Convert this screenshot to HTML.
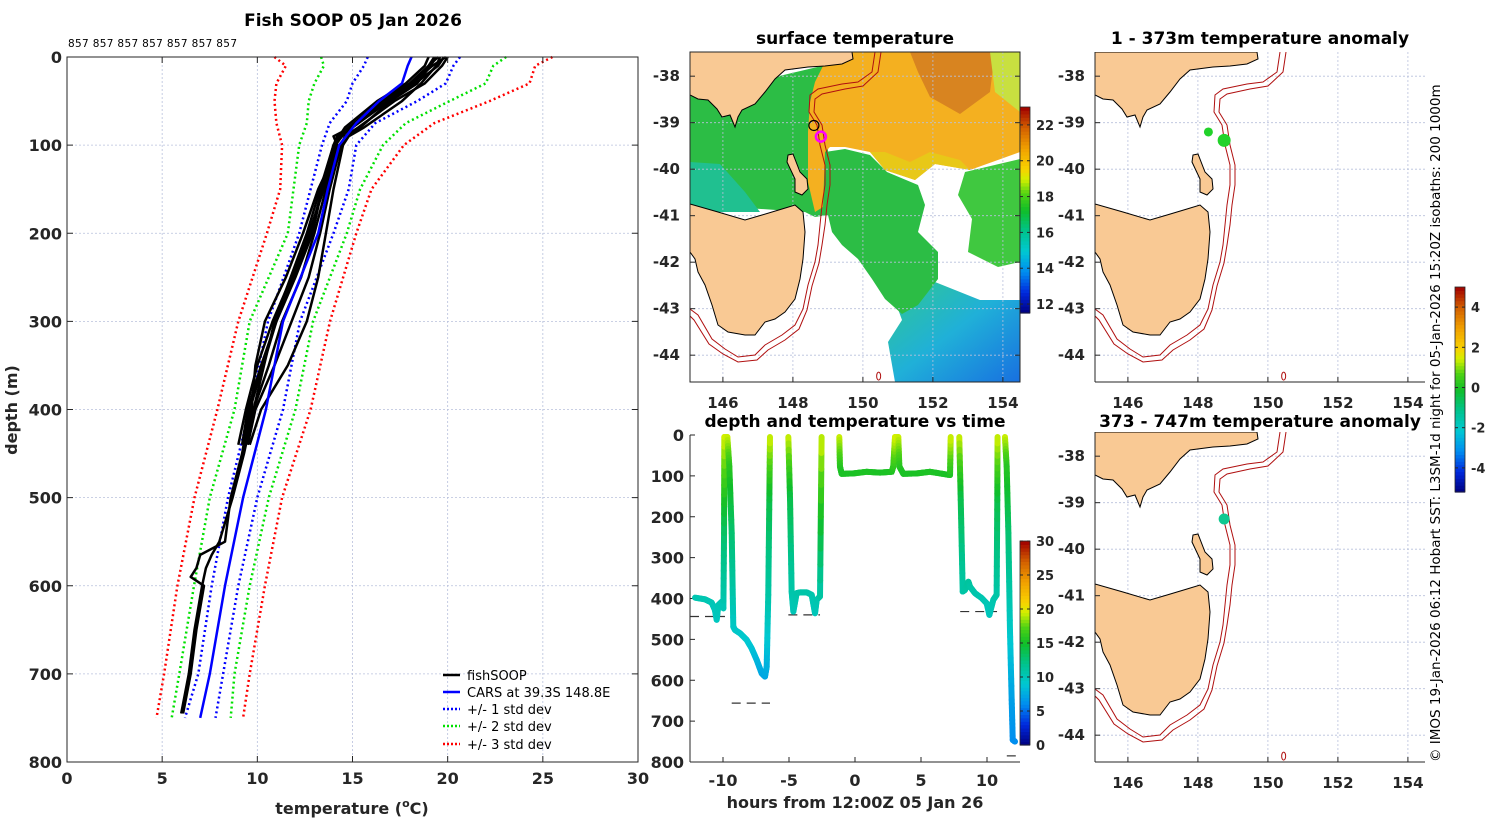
<!DOCTYPE html>
<html><head><meta charset="utf-8">
<style>
html,body{margin:0;padding:0;background:#fff;}
svg{display:block;font-family:"DejaVu Sans","Liberation Sans",sans-serif;}
.tk{font-size:16px;font-weight:bold;fill:#262626;}
.mt{font-size:15px;font-weight:bold;fill:#262626;}
.ttl{font-size:17px;font-weight:bold;fill:#000;}
.grid{stroke:#b8c0dc;stroke-width:0.8;stroke-dasharray:2,2;fill:none;}
</style></head>
<body>
<svg id="fig" width="1500" height="820" viewBox="0 0 1500 820" xmlns="http://www.w3.org/2000/svg">
<defs>
<clipPath id="mapclip"><rect x="0" y="0" width="330" height="330"/></clipPath>
<linearGradient id="seGrad" x1="0" y1="0" x2="1" y2="1">
<stop offset="0" stop-color="#30c890"/><stop offset="0.5" stop-color="#20b0d8"/><stop offset="1" stop-color="#1870e0"/>
</linearGradient>
</defs>

<g id="profile">
<text class="ttl" x="353" y="26" text-anchor="middle">Fish SOOP 05 Jan 2026</text>
<text x="68" y="47" font-size="10.5" fill="#000" textLength="169">857 857 857 857 857 857 857</text>
<g id="pgrid"></g>
<g id="plines"></g>
<rect x="67" y="57" width="571" height="705" fill="none" stroke="#262626" stroke-width="1"/>
<g id="pticks"></g>
<text class="tk" transform="translate(17,410) rotate(-90)" text-anchor="middle">depth (m)</text>
<text class="tk" x="352" y="814" text-anchor="middle">temperature (<tspan font-size="11" dy="-7">o</tspan><tspan dy="7">C)</tspan></text>
<g id="legend" font-size="13" fill="#000">
<line x1="443" y1="675" x2="460" y2="675" stroke="#000" stroke-width="2.5"/>
<text x="467" y="680">fishSOOP</text>
<line x1="443" y1="692" x2="460" y2="692" stroke="#0000ff" stroke-width="2.5"/>
<text x="467" y="697">CARS at 39.3S 148.8E</text>
<line x1="443" y1="709" x2="460" y2="709" stroke="#0000ff" stroke-width="2.5" stroke-dasharray="2,2"/>
<text x="467" y="714">+/- 1 std dev</text>
<line x1="443" y1="726" x2="460" y2="726" stroke="#00e000" stroke-width="2.5" stroke-dasharray="2,2"/>
<text x="467" y="731">+/- 2 std dev</text>
<line x1="443" y1="744" x2="460" y2="744" stroke="#ff0000" stroke-width="2.5" stroke-dasharray="2,2"/>
<text x="467" y="749">+/- 3 std dev</text>
</g>
</g>

<text class="ttl" x="855" y="44" text-anchor="middle">surface temperature</text>
<g id="map1" transform="translate(690,52)"></g>
<g id="cb1"></g>

<text class="ttl" x="855" y="427" text-anchor="middle">depth and temperature vs time</text>
<g id="tpanel"></g>
<g id="cb2"></g>
<text class="tk" x="855" y="808" text-anchor="middle">hours from 12:00Z 05 Jan 26</text>

<text class="ttl" x="1260" y="44" text-anchor="middle">1 - 373m temperature anomaly</text>
<g id="map2" transform="translate(1095,52)"></g>
<text class="ttl" x="1260" y="427" text-anchor="middle">373 - 747m temperature anomaly</text>
<g id="map3" transform="translate(1095,432)"></g>
<g id="cb3"></g>
<text transform="translate(1440,762) rotate(-90)" font-size="13.5" fill="#000">© IMOS 19-Jan-2026 06:12 Hobart SST: L3SM-1d night for 05-Jan-2026 15:20Z isobaths: 200  1000m</text>
</svg>

<script>
const depths = [0,10,30,50,75,100,150,200,300,400,500,600,700,750];
const carsMean = [18.1,17.9,17.6,16.4,15.2,14.3,13.7,13.2,11.35,10.45,9.25,8.3,7.5,7.0];
const sd1Lo = [15.8,15.6,15.0,14.7,13.8,13.4,12.8,12.2,10.56,9.6,8.46,7.6,6.9,6.2];
const sd1Hi = [20.65,20.3,19.9,18.4,16.2,15.2,14.8,14.0,12.24,11.35,10.0,9.0,8.2,7.8];
const sd2Lo = [13.35,13.5,13.0,12.7,12.6,12.2,11.9,11.6,9.6,8.8,7.5,6.67,5.9,5.5];
const sd2Hi = [23.07,22.4,22.0,20.1,17.8,16.6,15.4,14.7,12.93,12.0,10.6,9.6,8.8,8.6];
const sd3Lo = [10.9,11.5,11.0,10.9,11.0,11.3,11.2,10.5,9.0,7.9,6.7,5.8,5.1,4.7];
const sd3Hi = [25.5,24.6,24.3,22.2,19.3,17.7,16.0,15.2,13.82,12.8,11.3,10.4,9.6,9.25];

const shallowDepths = [0,10,30,50,80,90,100,150,200,250,300,350,400,440];
const prof1 = [19.8,19.5,18.3,16.8,14.9,14.0,14.2,13.6,13.0,12.3,11.3,10.6,9.8,9.3];
const prof2 = [20.0,19.7,18.8,17.2,15.3,14.6,14.4,13.8,13.3,12.7,11.8,10.9,9.9,9.5];
const prof3 = [19.3,19.0,18.0,16.5,14.8,14.2,14.0,13.4,12.9,12.0,11.0,10.2,9.5,9.2];
const prof4 = [19.6,19.4,18.6,17.6,15.6,14.8,14.5,14.0,13.6,13.2,12.6,11.6,10.2,9.6];
const prof5 = [19.9,19.2,18.1,16.9,15.0,14.4,14.1,13.5,12.7,11.8,10.8,10.0,9.4,9.0];
const prof6 = [19.4,19.1,18.4,17.0,15.4,14.7,14.3,13.2,12.4,11.5,10.4,9.9,9.7,9.4];
const deepDepths = [0,10,30,50,80,100,150,200,300,400,450,500,550,565,580,590,600,650,700,745];
const prof7 = [19.5,19.0,18.2,16.6,14.8,14.1,13.4,12.8,11.0,9.6,9.2,8.6,8.3,7.0,6.8,6.5,7.2,6.8,6.5,6.1];
const prof8 = [19.0,18.8,17.8,16.3,14.6,14.0,13.3,12.6,10.9,9.8,9.3,8.7,8.0,7.6,7.3,7.2,7.1,6.7,6.4,6.0];

const tempTicks = [0,5,10,15,20,25,30];
const depthTicks = [0,100,200,300,400,500,600,700,800];

const hours = [-12.12,-11.36,-10.86,-10.61,-10.48,-10.35,-10.10,-9.97,-9.92,-9.90,-9.67,-9.52,-9.34,-9.22,-9.09,-8.71,-8.21,-7.83,-7.45,-7.07,-6.82,-6.69,-6.57,-6.49,-6.44,
 -5.05,-4.92,-4.80,-4.67,-4.42,-4.17,-3.66,-3.28,-3.03,-2.90,-2.65,-2.53,
 -1.19,-1.14,-1.01,-0.13,0.88,1.89,2.78,2.90,3.03,3.28,3.36,3.66,4.67,5.68,7.20,7.25,
 7.90,8.01,8.16,8.33,8.59,8.71,9.09,9.60,9.98,10.18,10.48,10.73,10.78,10.80,
 11.36,11.49,11.62,11.74,11.87,11.95,12.12];
const tdepths = [398,402,410,428,452,416,408,424,240,5,5,77,240,469,477,485,501,522,550,583,591,567,391,159,5,
 5,159,383,432,387,385,385,391,436,403,395,5,
 5,77,95,94,90,92,90,77,5,5,77,95,94,90,98,5,
 5,159,383,379,359,371,387,399,412,440,403,391,159,5,
 5,77,240,477,648,746,750];
const ttemps = [10.4,10.4,10.3,10.0,9.8,10.2,10.3,10.1,13.0,19.5,19.5,16.0,13.0,9.6,9.5,9.4,9.2,8.8,8.2,7.5,7.3,7.7,10.8,14.0,19.5,
 19.5,14.0,10.8,10.1,10.7,10.8,10.8,10.7,10.0,10.5,10.6,19.5,
 19.5,16.0,15.4,15.4,15.5,15.4,15.5,16.0,19.5,19.5,16.0,15.4,15.4,15.5,15.3,19.5,
 19.5,14.0,10.8,10.9,11.3,11.0,10.7,10.5,10.3,9.9,10.5,10.7,14.0,19.5,
 19.5,16.0,13.0,9.5,7.0,6.2,6.1];
const segBreaks = [25,37,53,67];
const bottomStart = [-12.5,-9.34,-5.05,-1.14,7.97,11.5];
const bottomEnd = [-9.85,-6.44,-2.65,7.2,10.76,12.2];
const bottomDepth = [444,656,440,95,432,785];
const hourTicks = [-10,-5,0,5,10];
const timeDepthTicks = [0,100,200,300,400,500,600,700,800];

const lonTicks = [146,148,150,152,154];
const latTicks = [-38,-39,-40,-41,-42,-43,-44];
const sstTicks = [12,14,16,18,20,22];
const timeCbTicks = [0,5,10,15,20,25,30];
const anomTicks = [-4,-2,0,2,4];
const shallowDotLon = [148.3,148.75];
const shallowDotLat = [-39.2,-39.38];
const shallowDotR = [4.5,6.5];
const deepDotLon = [148.75];
const deepDotLat = [-39.35];

const NS='http://www.w3.org/2000/svg';
function mk(tag, attrs, parent){const e=document.createElementNS(NS,tag);for(const k in attrs)e.setAttribute(k,attrs[k]);parent.appendChild(e);return e;}

function cmap(v){
  const st=[[0,[0,0,128]],[0.1,[0,40,220]],[0.2,[0,140,240]],[0.3,[0,200,210]],[0.4,[0,195,140]],[0.5,[16,190,40]],[0.58,[80,210,20]],[0.65,[210,240,0]],[0.7,[248,210,0]],[0.8,[240,160,0]],[0.9,[210,96,0]],[1,[160,0,0]]];
  v=Math.max(0,Math.min(1,v));
  for(let i=1;i<st.length;i++){if(v<=st[i][0]){const a=st[i-1],b=st[i];const f=(v-a[0])/(b[0]-a[0]);const c=a[1].map((x,j)=>Math.round(x+(b[1][j]-x)*f));return `rgb(${c[0]},${c[1]},${c[2]})`;}}
  return 'rgb(160,0,0)';
}

const px = t => 67 + t*571/30;
const py = d => 57 + d*705/800;
const pg=document.getElementById('pgrid');
tempTicks.slice(1,-1).forEach(t=>{const l=mk('line',{x1:px(t),y1:57,x2:px(t),y2:762,class:'grid'},pg);

});
depthTicks.slice(1,-1).forEach(d=>{const l=mk('line',{x1:67,y1:py(d),x2:638,y2:py(d),class:'grid'},pg);

});
const ptk=document.getElementById('pticks');
tempTicks.forEach(t=>{mk('line',{x1:px(t),y1:762,x2:px(t),y2:756,stroke:'#262626'},ptk);mk('line',{x1:px(t),y1:57,x2:px(t),y2:63,stroke:'#262626'},ptk);
const tx=mk('text',{x:px(t),y:784,class:'tk','text-anchor':'middle'},ptk);tx.textContent=t;

});
depthTicks.forEach(d=>{mk('line',{x1:67,y1:py(d),x2:73,y2:py(d),stroke:'#262626'},ptk);mk('line',{x1:638,y1:py(d),x2:632,y2:py(d),stroke:'#262626'},ptk);
const tx=mk('text',{x:62,y:py(d)+6,class:'tk','text-anchor':'end'},ptk);tx.textContent=d;

});

const pl=document.getElementById('plines');
function drawProf(ds,ts,color,dash,name,w){
  const pts=ds.map((d,i)=>px(ts[i]).toFixed(1)+','+py(d).toFixed(1)).join(' ');
  const a={points:pts,fill:'none',stroke:color,'stroke-width':w,'stroke-linejoin':'round'};
  if(dash)a['stroke-dasharray']=dash;
  const p=mk('polyline',a,pl);
  
  
}
drawProf(depths,sd3Lo,'#ff0000','2,3','sd3-low-line',2.5);
drawProf(depths,sd3Hi,'#ff0000','2,3','sd3-high-line',2.5);
drawProf(depths,sd2Lo,'#00e000','2,3','sd2-low-line',2.5);
drawProf(depths,sd2Hi,'#00e000','2,3','sd2-high-line',2.5);
drawProf(depths,sd1Lo,'#0000ff','2,3','sd1-low-line',2.5);
drawProf(depths,sd1Hi,'#0000ff','2,3','sd1-high-line',2.5);
[prof1,prof2,prof3,prof4,prof5,prof6].forEach(p=>drawProf(shallowDepths,p,'#000','', 'fishsoop-profile',2.5));
[prof7,prof8].forEach(p=>drawProf(deepDepths,p,'#000','','fishsoop-profile',2.5));
drawProf(depths,carsMean,'#0000ff','','cars-mean-line',2.5);

const hx = h => 855 + h*13.2;
const dy = d => 435 + d*327/800;
const tp=document.getElementById('tpanel');
mk('line',{x1:690,y1:435,x2:690,y2:762,stroke:'#262626'},tp);
mk('line',{x1:690,y1:762,x2:1020,y2:762,stroke:'#262626'},tp);
timeDepthTicks.forEach(d=>{mk('line',{x1:690,y1:dy(d),x2:695,y2:dy(d),stroke:'#262626'},tp);
const tx=mk('text',{x:684,y:dy(d)+6,class:'tk','text-anchor':'end'},tp);tx.textContent=d;

});
hourTicks.forEach(h=>{mk('line',{x1:hx(h),y1:762,x2:hx(h),y2:757,stroke:'#262626'},tp);
const tx=mk('text',{x:hx(h),y:786,class:'tk','text-anchor':'middle'},tp);tx.textContent=h;

});
bottomDepth.forEach((d,i)=>{const l=mk('line',{x1:hx(bottomStart[i]),y1:dy(d),x2:hx(bottomEnd[i]),y2:dy(d),stroke:'#333','stroke-width':1.2,'stroke-dasharray':'9,6'},tp);

});
const trk=mk('g',{},tp);


for(let i=0;i<hours.length-1;i++){
  if(segBreaks.includes(i+1))continue;
  const n=10;
  for(let k=0;k<n;k++){
    const f0=k/n,f1=(k+1)/n;
    const t=ttemps[i]+(ttemps[i+1]-ttemps[i])*(f0+f1)/2;
    const s=mk('line',{x1:hx(hours[i]+(hours[i+1]-hours[i])*f0),y1:dy(tdepths[i]+(tdepths[i+1]-tdepths[i])*f0),
      x2:hx(hours[i]+(hours[i+1]-hours[i])*f1),y2:dy(tdepths[i]+(tdepths[i+1]-tdepths[i])*f1),
      stroke:cmap(t/30),'stroke-width':6,'stroke-linecap':'round'},trk);
    
    
  }
}

function colorbar(id,x,y0,y1,vmin,vmax,ticks){
  const g=document.getElementById(id);
  const n=60,h=(y1-y0)/n;
  for(let i=0;i<n;i++){mk('rect',{x:x,y:(y1-(i+1)*h).toFixed(2),width:10,height:(h+0.6).toFixed(2),fill:cmap((i+0.5)/n)},g);}
  mk('rect',{x:x,y:y0,width:10,height:y1-y0,fill:'none',stroke:'#262626','stroke-width':0.8},g);
  ticks.forEach(v=>{const yy=y1-(v-vmin)/(vmax-vmin)*(y1-y0);
    mk('line',{x1:x+10,y1:yy,x2:x+7,y2:yy,stroke:'#262626'},g);mk('line',{x1:x,y1:yy,x2:x+3,y2:yy,stroke:'#262626'},g);
    const t=mk('text',{x:x+16,y:yy+5,'font-size':13,'font-weight':'bold',fill:'#262626'},g);t.textContent=v;
    
    });
}
colorbar('cb1',1020,107,313,11.5,23,sstTicks);
colorbar('cb2',1020,541,745,0,30,timeCbTicks);
colorbar('cb3',1455,287,492,-5.2,5,anomTicks);

const mx = lon => (lon-145.06)*35;
const my = lat => (-37.48-lat)*46.5;
const mainland="0,0 162,0 163,7 152,12 135,14 118,15 95,18 85,27 75,40 65,52 52,58 48,65 45,75 40,63 32,65 27,57 18,48 8,47 0,43";
const tas="0,152 28,160 55,168 72,163 92,157 105,153 113,160 115,180 113,207 110,227 105,247 95,260 85,267 75,270 65,283 55,283 38,280 28,273 22,253 15,233 8,220 5,207 0,200";
const flinders="98,103 103,102 110,120 117,127 118,137 112,143 105,140 105,127 97,110";
const iso200="185,0 182,20 168,30 152,32 128,37 120,43 119,60 127,73 130,93 135,113 135,133 132,153 130,173 128,193 125,210 118,233 113,257 105,273 92,283 75,293 65,303 48,305 35,297 22,287 8,263 0,257";
const iso1000="191,0 188,20 173,34 155,37 132,42 125,47 124,60 132,73 135,93 140,113 140,133 137,153 135,173 132,193 129,211 122,234 117,258 109,277 95,288 78,298 67,308 48,310 33,302 19,292 4,268 0,264";

function buildMap(id, sst, boxed){
  const g=document.getElementById(id);
  const c=mk('g',{'clip-path':'url(#mapclip)'},g);
  mk('rect',{x:0,y:0,width:330,height:330,fill:'#fff'},c);
  if(sst){
    const a=(pts,fill,name)=>{const p=mk('polygon',{points:pts,fill:fill},c);};
    a("0,40 50,55 85,25 140,12 138,100 138,163 125,165 115,160 0,152",'#2cbd45','sst-bass-strait');
    a("0,110 30,112 55,140 70,160 0,160",'#20c090','sst-bass-strait-cool');
    a("200,235 240,228 290,248 330,248 330,330 205,330 198,290 212,268",'url(#seGrad)','sst-southeast-cool');
    a("135,100 155,97 180,103 197,120 228,133 235,153 228,180 248,200 248,227 228,253 212,262 195,247 182,227 168,207 152,193 142,180 138,163",'#2cbd45','sst-green-tongue');
    a("275,120 330,107 330,210 308,215 278,200 282,167 268,143",'#40c840','sst-east-green');
    a("140,0 330,0 330,100 280,118 245,112 225,128 195,118 180,100 155,95 140,95 135,100 133,155 125,160 118,130 118,80 120,50 125,30",'#f4b020','sst-warm-core');
    a("220,0 305,0 300,40 270,62 240,45 228,20",'#d88420','sst-warm-max');
    a("300,0 330,0 330,60 305,40",'#c8e040','sst-northeast-yellow');
    a("180,100 195,118 225,128 245,112 280,118 270,108 240,100 220,110 195,100",'#e8c818','sst-front');
  }
  lonTicks.forEach(L=>{mk('line',{x1:mx(L),y1:0,x2:mx(L),y2:330,class:'grid'},c);});
  latTicks.forEach(L=>{mk('line',{x1:0,y1:my(L),x2:330,y2:my(L),class:'grid'},c);});
  const land=(pts,name)=>{const p=mk('polygon',{points:pts,fill:'#f9c994',stroke:'#000','stroke-width':1},c);};
  land(mainland,'mainland-coast');land(tas,'tasmania');land(flinders,'flinders-island');
  const iso=(pts,name)=>{const p=mk('polyline',{points:pts,fill:'none',stroke:'#b01010','stroke-width':1},c);};
  iso(iso200,'isobath-200m');iso(iso1000,'isobath-1000m');
  mk('ellipse',{cx:mx(150.45),cy:my(-44.45),rx:2,ry:4,fill:'none',stroke:'#b01010'},c);
  if(boxed) mk('rect',{x:0,y:0,width:330,height:330,fill:'none',stroke:'#262626'},g);
  else {mk('line',{x1:0,y1:0,x2:0,y2:330,stroke:'#262626'},g);mk('line',{x1:0,y1:330,x2:330,y2:330,stroke:'#262626'},g);}
  lonTicks.forEach(L=>{mk('line',{x1:mx(L),y1:330,x2:mx(L),y2:325,stroke:'#262626'},g);
    const t=mk('text',{x:mx(L),y:356,class:'mt','text-anchor':'middle'},g);t.textContent=L;
    
    });
  latTicks.forEach(L=>{mk('line',{x1:0,y1:my(L),x2:5,y2:my(L),stroke:'#262626'},g);
    if(boxed)mk('line',{x1:330,y1:my(L),x2:325,y2:my(L),stroke:'#262626'},g);
    const t=mk('text',{x:-10,y:my(L)+5,class:'mt','text-anchor':'end'},g);t.textContent=L;
    
    });
  return c;
}
const m1=buildMap('map1',true,true);
let o=mk('circle',{cx:mx(148.6),cy:my(-39.06),r:5,fill:'none',stroke:'#000','stroke-width':1.2},m1);


o=mk('circle',{cx:mx(148.8),cy:my(-39.3),r:5,fill:'none',stroke:'#ff00ff','stroke-width':2.5},m1);


const m2=buildMap('map2',false,false);
shallowDotLon.forEach((L,i)=>{const d=mk('circle',{cx:mx(L),cy:my(shallowDotLat[i]),r:shallowDotR[i],fill:'#22d22a'},m2);

});
const m3=buildMap('map3',false,false);
deepDotLon.forEach((L,i)=>{const d=mk('circle',{cx:mx(L),cy:my(deepDotLat[i]),r:5.5,fill:'#10c890'},m3);

});
</script>
</body></html>
